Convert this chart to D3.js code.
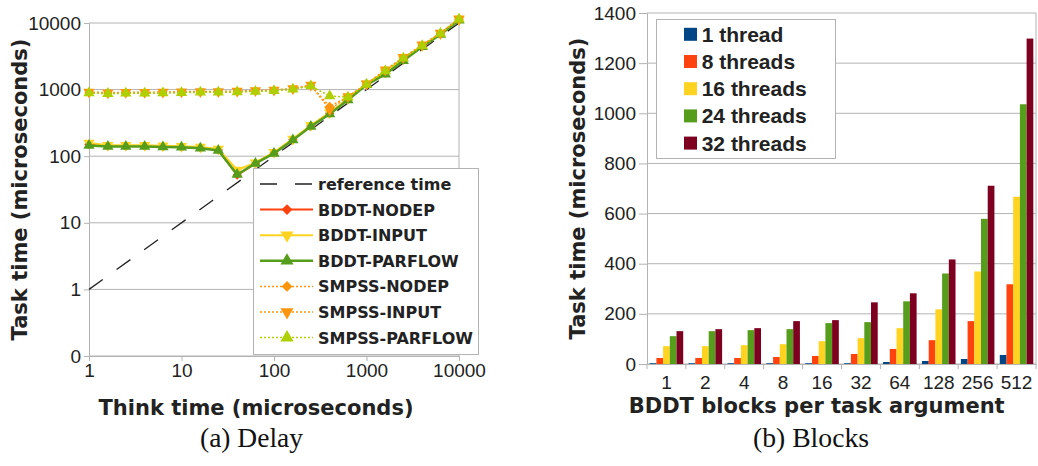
<!DOCTYPE html>
<html lang="en">
<head>
<meta charset="UTF-8">
<title>Delay and Blocks</title>
<script src="https://d3js.org/d3.v7.min.js"></script>
<style>
    body { margin: 0; padding: 0; background: #fff; }
    svg { display: block; }
    .tick-label { font-family: "Liberation Sans", Arial, sans-serif; font-size: 19px; fill: #222; }
    .axis-title { font-family: "DejaVu Sans", sans-serif; font-weight: bold; font-size: 21px; fill: #222; }
    .caption { font-family: "Liberation Serif", "Times New Roman", serif; font-size: 27px; fill: #111; }
</style>
</head>
<body>
<svg id="chart" width="1038" height="466"></svg>
<script>
// ---- (a) Delay data ----
const thinkTime = [1, 1.6, 2.5, 4, 6.3, 10, 16, 25, 40, 63, 100, 160, 250, 400, 630, 1000, 1600, 2500, 4000, 6300, 10000];
const bddtNodep   = [150, 142, 142, 142, 140, 138, 134, 124, 52, 78, 112, 178, 285, 440, 715, 1200, 1750, 2800, 4500, 6800, 11200];
const bddtInput   = [158, 146, 146, 146, 143, 141, 137, 128, 62, 80, 115, 182, 292, 450, 735, 1220, 1850, 2900, 4600, 6900, 11300];
const bddtParflow = [145, 140, 140, 140, 138, 136, 132, 122, 53, 78, 110, 175, 280, 430, 700, 1180, 1700, 2700, 4400, 6700, 11000];
const smpssNodep   = [900, 880, 890, 890, 900, 910, 920, 920, 930, 950, 970, 1020, 1150, 560, 780, 1200, 1950, 3000, 4600, 7000, 11500];
const smpssInput   = [920, 900, 910, 910, 920, 930, 940, 940, 950, 970, 990, 1040, 1170, 500, 790, 1220, 1980, 3050, 4700, 7100, 11600];
const smpssParflow = [890, 870, 880, 880, 890, 900, 910, 910, 920, 940, 960, 1010, 1130, 800, 770, 1190, 1900, 2950, 4550, 6950, 11400];
const refX = [1, 10000];
const refY = [1, 10000];
const delayTicksY = [0.1, 1, 10, 100, 1000, 10000];
const delayTickLabelsY = ["0", "1", "10", "100", "1000", "10000"];
const delayTicksX = [1, 10, 100, 1000, 10000];

// ---- (b) Blocks data ----
const blocks = ["1", "2", "4", "8", "16", "32", "64", "128", "256", "512"];
const threadNames = ["1 thread", "8 threads", "16 threads", "24 threads", "32 threads"];
const thread1  = [3, 3, 3, 3, 3, 3, 8, 12, 20, 36];
const thread8  = [24, 24, 24, 28, 32, 40, 60, 95, 171, 318];
const thread16 = [71, 71, 75, 79, 91, 103, 143, 218, 369, 667];
const thread24 = [111, 131, 135, 139, 163, 167, 250, 361, 579, 1036];
const thread32 = [131, 139, 143, 171, 175, 246, 282, 417, 711, 1298];
const blocksTicksY = [0, 200, 400, 600, 800, 1000, 1200, 1400];

const grid = "#b3b3b3";
const svg = d3.select("#chart");
svg.append("rect").attr("width", 1038).attr("height", 466).attr("fill", "#fff");

// ================= (a) Delay =================
const a = { left: 89, right: 459, top: 23, bottom: 356 };
const xA = d3.scaleLog().domain([1, 10000]).range([a.left, a.right]);
const yA = d3.scaleLog().domain([0.1, 10000]).range([a.bottom, a.top]);

const gA = svg.append("g");
gA.append("g").selectAll("line").data(delayTicksY).join("line")
    .attr("x1", a.left).attr("x2", a.right)
    .attr("y1", d => yA(d)).attr("y2", d => yA(d))
    .attr("stroke", grid);
gA.append("line").attr("x1", a.right).attr("x2", a.right).attr("y1", a.top).attr("y2", a.bottom).attr("stroke", grid);

const axYA = gA.append("g").attr("transform", `translate(${a.left},0)`)
    .call(d3.axisLeft(yA).tickValues(delayTicksY).tickSize(5).tickPadding(3)
        .tickFormat((d, i) => delayTickLabelsY[i]));
const axXA = gA.append("g").attr("transform", `translate(0,${a.bottom})`)
    .call(d3.axisBottom(xA).tickValues(delayTicksX).tickSize(5).tickPadding(5)
        .tickFormat(d3.format("d")));
[axYA, axXA].forEach(ax => {
    ax.select(".domain").attr("stroke", grid);
    ax.selectAll(".tick line").attr("stroke", grid);
    ax.selectAll("text").attr("class", "tick-label").attr("fill", null);
});
axXA.selectAll("text").attr("dy", "0.6em");

const lineA = d3.line().x(d => xA(d[0])).y(d => yA(d[1]));
const seriesA = [
    { name: "BDDT-NODEP",    y: bddtNodep,    color: "#ff420e", width: 2,   dash: null,  shape: d3.symbolDiamond2, size: 55, rot: 0 },
    { name: "BDDT-INPUT",    y: bddtInput,    color: "#ffd320", width: 2,   dash: null,  shape: d3.symbolTriangle, size: 55, rot: 180 },
    { name: "BDDT-PARFLOW",  y: bddtParflow,  color: "#579d1c", width: 2.5, dash: null,  shape: d3.symbolTriangle, size: 55, rot: 0 },
    { name: "SMPSS-NODEP",   y: smpssNodep,   color: "#ff950e", width: 1.5, dash: "2,2", shape: d3.symbolDiamond2, size: 55, rot: 0 },
    { name: "SMPSS-INPUT",   y: smpssInput,   color: "#ff950e", width: 1.5, dash: "2,2", shape: d3.symbolTriangle, size: 55, rot: 180 },
    { name: "SMPSS-PARFLOW", y: smpssParflow, color: "#aecf00", width: 1.5, dash: "2,2", shape: d3.symbolTriangle, size: 55, rot: 0 }
];

// reference line y = x
gA.append("path").datum(d3.zip(refX, refY)).attr("d", lineA)
    .attr("fill", "none").attr("stroke", "#222").attr("stroke-width", 1.3)
    .attr("stroke-dasharray", "17,17");

seriesA.forEach(s => {
    const pts = d3.zip(thinkTime, s.y);
    gA.append("path").datum(pts).attr("d", lineA)
        .attr("fill", "none").attr("stroke", s.color).attr("stroke-width", s.width)
        .attr("stroke-dasharray", s.dash);
    gA.append("g").selectAll("path").data(pts).join("path")
        .attr("d", d3.symbol().type(s.shape).size(s.size))
        .attr("transform", d => `translate(${xA(d[0])},${yA(d[1])}) rotate(${s.rot})`)
        .attr("fill", s.color);
});

// legend (a)
const legA = svg.append("g");
legA.append("rect").attr("x", 253.5).attr("y", 168.5).attr("width", 225).attr("height", 186)
    .attr("fill", "#fff").attr("stroke", grid);
const legRowsA = [{ name: "reference time", ref: true }].concat(seriesA);
legRowsA.forEach((s, i) => {
    const cy = 184 + i * 25.6;
    const row = legA.append("g").attr("transform", `translate(0,${cy})`);
    if (s.ref) {
        row.append("line").attr("x1", 260).attr("x2", 313).attr("stroke", "#222")
            .attr("stroke-width", 1.3).attr("stroke-dasharray", "17,18");
    } else {
        row.append("line").attr("x1", 260).attr("x2", 313).attr("stroke", s.color)
            .attr("stroke-width", s.width).attr("stroke-dasharray", s.dash);
        row.append("path").attr("d", d3.symbol().type(s.shape).size(s.size + 20))
            .attr("transform", `translate(287,0) rotate(${s.rot})`).attr("fill", s.color);
    }
    row.append("text").attr("x", 318).attr("y", 6)
        .attr("font-family", "DejaVu Sans, sans-serif").attr("font-weight", "bold")
        .attr("font-size", 16).attr("fill", "#222").text(s.name);
});

svg.append("text").attr("class", "axis-title").attr("x", 256).attr("y", 415)
    .attr("text-anchor", "middle").text("Think time (microseconds)");
svg.append("text").attr("class", "axis-title").attr("text-anchor", "middle")
    .attr("transform", `translate(27,${(a.top + a.bottom) / 2}) rotate(-90)`)
    .text("Task time (microseconds)");
svg.append("text").attr("class", "caption").attr("x", 200).attr("y", 447)
    .attr("textLength", 103).attr("lengthAdjust", "spacingAndGlyphs").text("(a) Delay");

// ================= (b) Blocks =================
const b = { left: 647, right: 1036, top: 13, bottom: 364 };
const xB = d3.scaleBand().domain(blocks).range([b.left, b.right]).padding(0);
const xInner = d3.scaleBand().domain(threadNames).range([0, xB.bandwidth()]).paddingInner(0).paddingOuter(0.4);
const yB = d3.scaleLinear().domain([0, 1400]).range([b.bottom, b.top]);
const threadColors = ["#004586", "#ff420e", "#ffd320", "#579d1c", "#7e0021"];
const threadValues = [thread1, thread8, thread16, thread24, thread32];

const gB = svg.append("g");
gB.append("g").selectAll("line").data(blocksTicksY).join("line")
    .attr("x1", b.left).attr("x2", b.right)
    .attr("y1", d => yB(d)).attr("y2", d => yB(d)).attr("stroke", grid);
gB.append("line").attr("x1", b.right).attr("x2", b.right).attr("y1", b.top).attr("y2", b.bottom).attr("stroke", grid);

threadValues.forEach((vals, si) => {
    gB.append("g").selectAll("rect").data(blocks).join("rect")
        .attr("x", d => xB(d) + xInner(threadNames[si]))
        .attr("y", (d, i) => yB(vals[i]))
        .attr("width", xInner.bandwidth())
        .attr("height", (d, i) => b.bottom - yB(vals[i]))
        .attr("fill", threadColors[si]);
});

const axYB = gB.append("g").attr("transform", `translate(${b.left},0)`)
    .call(d3.axisLeft(yB).tickValues(blocksTicksY).tickSize(8).tickPadding(3).tickFormat(d3.format("d")));
const axXB = gB.append("g").attr("transform", `translate(0,${b.bottom})`)
    .call(d3.axisBottom(xB).tickSize(0).tickPadding(13));
axXB.selectAll(".tick-sep").data(blocks.concat(["end"])).join("line")
    .attr("x1", (d, i) => b.left + i * xB.step()).attr("x2", (d, i) => b.left + i * xB.step())
    .attr("y1", 0).attr("y2", 5).attr("stroke", grid);
[axYB, axXB].forEach(ax => {
    ax.select(".domain").attr("stroke", grid);
    ax.selectAll(".tick line").attr("stroke", grid);
    ax.selectAll("text").attr("class", "tick-label").attr("fill", null);
});
axXB.selectAll("text").attr("dy", "0.65em");

// legend (b)
const legB = svg.append("g");
legB.append("rect").attr("x", 656.5).attr("y", 19.5).attr("width", 179).attr("height", 139)
    .attr("fill", "#fff").attr("stroke", grid);
threadNames.forEach((n, i) => {
    const cy = 34.3 + i * 27.2;
    legB.append("rect").attr("x", 684).attr("y", cy - 6.5).attr("width", 13).attr("height", 13)
        .attr("fill", threadColors[i]);
    legB.append("text").attr("x", 701.7).attr("y", cy + 7.5)
        .attr("font-family", "Liberation Sans, Arial, sans-serif").attr("font-weight", "bold")
        .attr("font-size", 21).attr("fill", "#222").text(n);
});

svg.append("text").attr("class", "axis-title").attr("x", 816.7).attr("y", 413)
    .attr("text-anchor", "middle").text("BDDT blocks per task argument");
svg.append("text").attr("class", "axis-title").attr("text-anchor", "middle")
    .attr("transform", `translate(585,${(b.top + b.bottom) / 2}) rotate(-90)`)
    .text("Task time (microseconds)");
svg.append("text").attr("class", "caption").attr("x", 753).attr("y", 447)
    .attr("textLength", 116).attr("lengthAdjust", "spacingAndGlyphs").text("(b) Blocks");
</script>
</body>
</html>
